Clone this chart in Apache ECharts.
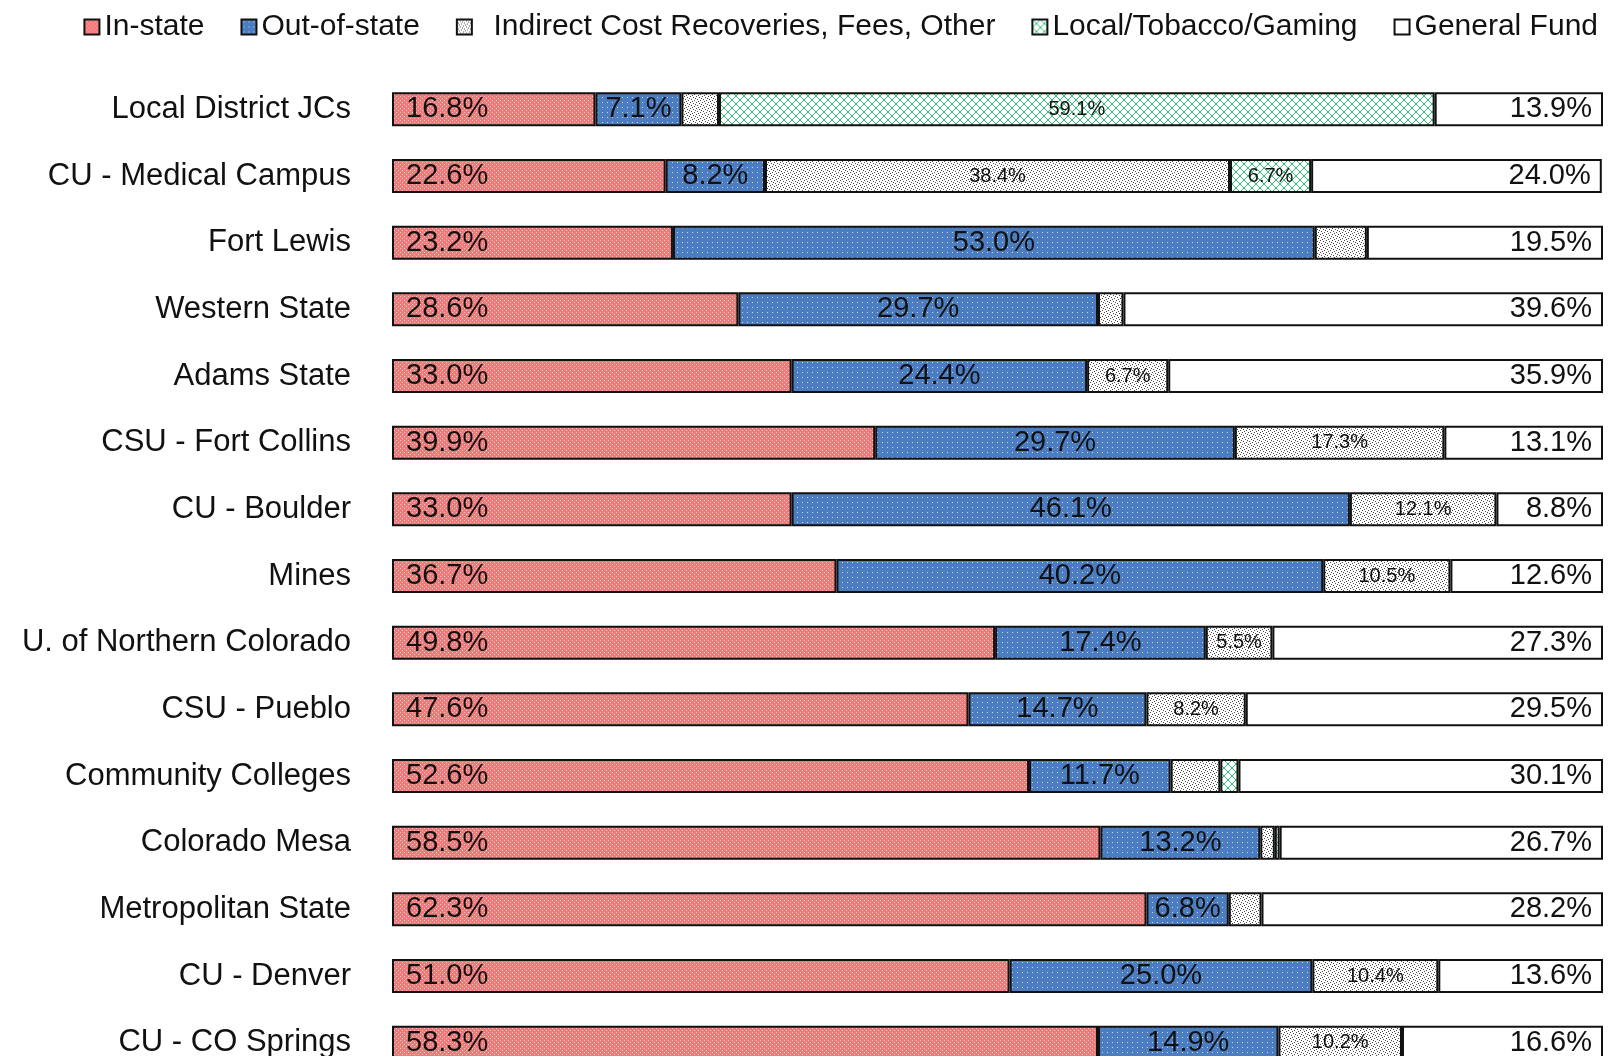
<!DOCTYPE html>
<html>
<head>
<meta charset="utf-8">
<script src="https://cdn.jsdelivr.net/npm/echarts@6/dist/echarts.min.js"></script>
<style>
  html, body { margin: 0; padding: 0; background: #fff; }
  #chart { width: 1608px; height: 1056px; }
</style>
</head>
<body>
<div id="chart"></div>
<script>
// categories, top to bottom
var categories = ['Local District JCs', 'CU - Medical Campus', 'Fort Lewis', 'Western State', 'Adams State',
    'CSU - Fort Collins', 'CU - Boulder', 'Mines', 'U. of Northern Colorado', 'CSU - Pueblo',
    'Community Colleges', 'Colorado Mesa', 'Metropolitan State', 'CU - Denver', 'CU - CO Springs'];

// shares of revenue, percent
var inState     = [16.8, 22.6, 23.2, 28.6, 33.0, 39.9, 33.0, 36.7, 49.8, 47.6, 52.6, 58.5, 62.3, 51.0, 58.3];
var outOfState  = [7.1, 8.2, 53.0, 29.7, 24.4, 29.7, 46.1, 40.2, 17.4, 14.7, 11.7, 13.2, 6.8, 25.0, 14.9];
var indirect    = [3.1, 38.4, 4.3, 2.1, 6.7, 17.3, 12.1, 10.5, 5.5, 8.2, 4.1, 1.2, 2.7, 10.4, 10.2];
var localTobGam = [59.1, 6.7, null, null, null, null, null, null, null, null, 1.5, 0.4, null, null, null];
var generalFund = [13.9, 24.0, 19.5, 39.6, 35.9, 13.1, 8.8, 12.6, 27.3, 29.5, 30.1, 26.7, 28.2, 13.6, 16.6];

var FONT = '"Liberation Sans", Arial, sans-serif';

// small canvas fills that imitate the office-style hatch patterns
function makePattern(w, h, draw) {
    var c = document.createElement('canvas');
    c.width = w;
    c.height = h;
    var ctx = c.getContext('2d');
    draw(ctx);
    return { image: c, repeat: 'repeat' };
}
function px(ctx, color, pts) {
    ctx.fillStyle = color;
    for (var i = 0; i < pts.length; i++) ctx.fillRect(pts[i][0], pts[i][1], 1, 1);
}

var redFill = makePattern(4, 4, function (ctx) {
    ctx.fillStyle = '#F57878';
    ctx.fillRect(0, 0, 4, 4);
    px(ctx, '#FFC4C4', [[0, 0], [2, 2]]);
});
var blueFill = makePattern(5, 5, function (ctx) {
    ctx.fillStyle = '#4C7DC0';
    ctx.fillRect(0, 0, 5, 5);
    px(ctx, '#C6D7EE', [[2, 2]]);
});
var dotFill = makePattern(6, 6, function (ctx) {
    ctx.fillStyle = '#FFFFFF';
    ctx.fillRect(0, 0, 6, 6);
    px(ctx, '#4A4A4A', [[0, 0], [3, 1], [1, 3], [4, 4], [2, 5], [5, 2]]);
});
var greenFill = makePattern(8, 8, function (ctx) {
    ctx.fillStyle = '#FFFFFF';
    ctx.fillRect(0, 0, 8, 8);
    var pts = [];
    for (var i = 0; i < 8; i++) {
        pts.push([i, i]);
        pts.push([7 - i, i]);
    }
    px(ctx, '#35C07A', pts);
});

function label(pos, size, dist, minShown) {
    return {
        show: true,
        position: pos,
        distance: dist,
        fontSize: size,
        fontFamily: FONT,
        color: '#111',
        formatter: function (p) {
            return p.value >= minShown ? p.value.toFixed(1) + '%' : '';
        }
    };
}

function barSeries(name, data, fill, lbl) {
    return {
        name: name,
        type: 'bar',
        stack: 'total',
        barWidth: 34,
        data: data,
        itemStyle: { color: fill, borderColor: '#111', borderWidth: 2 },
        label: lbl,
        emphasis: { disabled: true }
    };
}

var myChart = echarts.init(document.getElementById('chart'), null, { renderer: 'canvas' });

var option = {
    animation: false,
    backgroundColor: '#fff',
    legend: {
        top: 7,
        right: 5,
        itemWidth: 15,
        itemHeight: 15,
        itemGap: 36,
        icon: 'rect',
        textStyle: { fontSize: 30, fontFamily: FONT, color: '#111' },
        formatter: function (name) {
            // the source legend has a wider gap before this entry
            return name.indexOf('Indirect') === 0 ? '  ' + name : name;
        },
        data: ['In-state', 'Out-of-state', 'Indirect Cost Recoveries, Fees, Other', 'Local/Tobacco/Gaming', 'General Fund']
    },
    // last row runs past the bottom edge, as in the source
    grid: { left: 392, width: 1211, top: 76, height: 1000, outerBoundsMode: 'none' },
    xAxis: {
        type: 'value',
        min: 0,
        max: 100,
        show: false
    },
    yAxis: {
        type: 'category',
        inverse: true,
        data: categories,
        axisLine: { show: false },
        axisTick: { show: false },
        axisLabel: { margin: 41, fontSize: 31, fontFamily: FONT, color: '#111' }
    },
    series: [
        barSeries('In-state', inState, redFill, label('insideLeft', 29, 14, 0)),
        barSeries('Out-of-state', outOfState, blueFill, label('inside', 29, 0, 0)),
        barSeries('Indirect Cost Recoveries, Fees, Other', indirect, dotFill, label('inside', 20, 0, 5)),
        barSeries('Local/Tobacco/Gaming', localTobGam, greenFill, label('inside', 20, 0, 5)),
        barSeries('General Fund', generalFund, '#FFFFFF', label('insideRight', 29, 11, 0))
    ]
};

myChart.setOption(option);
</script>
</body>
</html>
